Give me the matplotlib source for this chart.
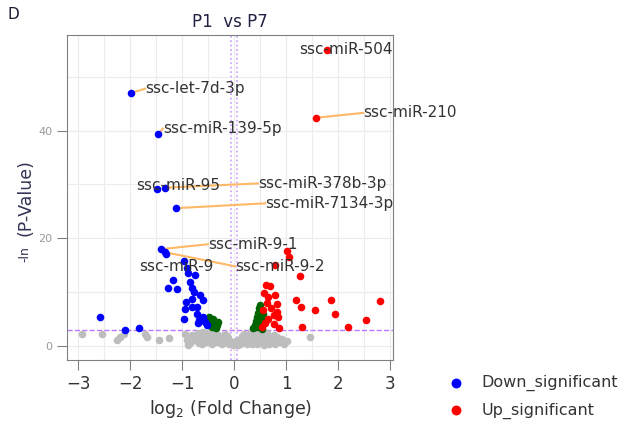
import numpy as np
import matplotlib
matplotlib.use("Agg")
import matplotlib.pyplot as plt

# ---- data (log2 fold change, -ln p) ----
down_x = [-2.58, -2.10, -1.82, -0.97, -0.91, -0.88, -0.75, -1.17, -1.28, -1.10,
          -0.85, -0.81, -0.78, -0.65, -0.60, -0.81, -0.92, -0.81, -0.72, -0.94,
          -0.96, -0.72, -0.67, -0.56, -0.70, -0.53, -0.59, -1.98, -1.46, -1.48,
          -1.33, -1.12, -1.40, -1.32, -1.30]
down_y = [5.4, 3.0, 3.4, 15.7, 14.4, 13.5, 13.1, 12.2, 10.7, 10.5,
          11.9, 10.7, 10.1, 9.4, 8.6, 8.8, 8.2, 7.3, 7.2, 6.8,
          5.1, 6.0, 4.9, 4.5, 4.2, 3.9, 5.4, 47.0, 39.3, 29.1,
          29.4, 25.6, 18.0, 17.4, 17.1]

up_x = [0.62, 0.69, 0.58, 0.66, 0.79, 0.83, 0.63, 0.72, 0.56, 0.82,
        0.76, 0.66, 0.85, 0.60, 0.76, 0.87, 0.53, 1.26, 1.19, 1.28,
        1.31, 1.56, 1.86, 1.94, 2.20, 2.53, 2.81, 1.79, 1.58, 0.79,
        1.02, 1.06]
up_y = [11.3, 11.1, 9.8, 9.1, 9.4, 7.8, 7.9, 7.0, 6.7, 6.4,
        5.7, 5.1, 5.4, 4.2, 4.1, 3.3, 3.6, 13.0, 8.6, 7.3,
        3.6, 6.7, 8.5, 6.0, 3.6, 4.8, 8.3, 55.0, 42.4, 15.0,
        17.6, 16.5]

green_x = [-0.52, -0.48, -0.45, -0.42, -0.40, -0.37, -0.35, -0.32, -0.30,
           0.36, 0.40, 0.42, 0.45, 0.47, 0.48, 0.50, 0.44, 0.50, 0.52, 0.54, 0.55]
green_y = [4.8, 5.3, 4.2, 3.6, 5.0, 4.4, 3.4, 3.9, 4.5,
           3.4, 3.9, 4.6, 5.4, 6.2, 7.0, 7.6, 3.5, 4.3, 5.0, 3.2, 6.0]

grey_x = [-2.92, -2.55, -2.25, -2.19, -2.12, -1.71, -1.67, -1.45, -1.26, 1.46,
          -0.95, -0.90, -0.85, -0.80, -0.78, -0.72, -0.70, -0.65, -0.62, -0.60,
          -0.55, -0.52, -0.50, -0.47, -0.45, -0.42, -0.40, -0.38, -0.35, -0.33,
          -0.30, -0.28, -0.25, -0.23, -0.20, -0.18, -0.15, -0.12, -0.10, -0.08,
          -0.05, -0.03, 0.00, 0.03, 0.06, 0.08, 0.10, 0.13, 0.15, 0.18,
          0.20, 0.22, 0.25, 0.27, 0.30, 0.32, 0.35, 0.38, 0.40, 0.42,
          0.45, 0.48, 0.50, 0.52, 0.55, 0.58, 0.60, 0.63, 0.66, 0.70,
          0.72, 0.76, 0.80, 0.83, 0.88, 0.92, 0.97, 1.02,
          -0.88, -0.75, -0.68, -0.57, -0.44, -0.36, -0.26, -0.17, -0.07, 0.04,
          0.12, 0.24, 0.34, 0.44, 0.57, 0.68, 0.78, 0.86, 0.95, -0.60,
          -0.48, -0.31, -0.14, 0.17, 0.29, 0.53, 0.64, 0.74]
grey_y = [2.2, 2.3, 1.1, 1.6, 2.3, 2.3, 1.6, 1.1, 1.4, 1.6,
          2.3, 1.2, 0.5, 2.0, 1.5, 0.9, 2.4, 1.8, 0.4, 1.3,
          2.2, 0.8, 1.6, 2.6, 1.1, 0.3, 1.9, 2.4, 1.4, 0.7,
          2.0, 1.0, 1.7, 0.4, 1.3, 2.2, 0.8, 1.5, 0.3, 1.0,
          0.5, 0.1, 0.2, 0.3, 0.8, 0.1, 1.2, 0.5, 1.8, 0.9,
          2.3, 1.4, 0.4, 2.0, 1.0, 2.6, 1.6, 0.7, 2.2, 1.2,
          0.3, 1.9, 2.5, 0.9, 1.5, 2.3, 0.5, 1.1, 1.8, 0.6,
          1.3, 2.0, 0.9, 1.6, 0.7, 1.3, 0.4, 0.9,
          0.2, 1.2, 0.6, 1.0, 0.6, 2.0, 0.6, 1.1, 0.6, 1.0,
          0.4, 0.9, 0.3, 1.7, 0.2, 0.3, 0.4, 1.1, 0.9, 2.6,
          2.1, 1.4, 1.9, 1.5, 1.6, 1.9, 2.5, 0.8]

# labelled miRNAs: name, point, label anchor (left edge, centre)
lab_names = ["ssc-miR-504", "ssc-let-7d-3p", "ssc-miR-210", "ssc-miR-139-5p",
             "ssc-miR-95", "ssc-miR-378b-3p", "ssc-miR-7134-3p", "ssc-miR-9-1",
             "ssc-miR-9", "ssc-miR-9-2"]
lab_px = [1.79, -1.98, 1.58, -1.46, -1.48, -1.33, -1.12, -1.40, -1.30, -1.32]
lab_py = [55.0, 47.0, 42.4, 39.3, 29.1, 29.4, 25.6, 18.0, 17.1, 17.4]
lab_tx = [1.25, -1.71, 2.48, -1.37, -1.88, 0.46, 0.60, -0.50, -1.83, 0.02]
lab_ty = [55.0, 47.8, 43.3, 40.4, 29.8, 30.2, 26.5, 18.9, 14.8, 14.8]
lab_line = [False, True, True, True, False, True, True, True, False, True]

p_cut = 3.0

fig = plt.figure(figsize=(6.28, 4.25), dpi=100)
ax = fig.add_axes([0.107, 0.153, 0.519, 0.765])

ax.set_xlim(-3.21, 3.06)
ax.set_ylim(-2.6, 57.8)
ax.set_xticks([-3, -2, -1, 0, 1, 2, 3])
ax.set_yticks([0, 20, 40])
ax.set_xticks(np.arange(-3, 3.01, 0.5), minor=True)
ax.set_yticks(np.arange(0, 51, 10), minor=True)
ax.grid(which="both", color="#ececec", linewidth=0.8, zorder=0)
ax.set_axisbelow(True)
ax.tick_params(axis="x", which="minor", length=0)
ax.tick_params(axis="y", which="minor", length=0)
ax.tick_params(axis="x", which="major", length=7, color="#808080",
               labelsize=12, labelcolor="#333333")
ax.tick_params(axis="y", which="major", length=7, color="#808080",
               labelsize=8, labelcolor="#999999")
for s in ax.spines.values():
    s.set_color("#808080")

ax.axvline(-0.05, color="#cc99ff", linestyle=":", linewidth=1.2, zorder=1)
ax.axvline(0.05, color="#cc99ff", linestyle=":", linewidth=1.2, zorder=1)
ax.axhline(p_cut, color="#bb77ff", linestyle="--", linewidth=1.0, zorder=1)

ms = 30
ax.scatter(grey_x, grey_y, s=ms, color="#bdbdbd", linewidths=0, zorder=2)
ax.scatter(green_x, green_y, s=ms, color="#006400", linewidths=0, zorder=3)
hd = ax.scatter(down_x, down_y, s=ms, color="#0000ff", linewidths=0, zorder=3,
                label="Down_significant")
hu = ax.scatter(up_x, up_y, s=ms, color="#ff0000", linewidths=0, zorder=3,
                label="Up_significant")

for name, px, py, tx, ty, ln in zip(lab_names, lab_px, lab_py, lab_tx, lab_ty, lab_line):
    if ln:
        ax.plot([px, tx], [py, ty], color="#ffb866", linewidth=1.5, zorder=2)
    ax.text(tx, ty, name, fontsize=11, color="#333333", ha="left", va="center",
            zorder=4)

ax.set_title("P1  vs P7", fontsize=12, color="#222244", pad=6)
ax.set_xlabel("log$_2$ (Fold Change)", fontsize=12.5, color="#333333", labelpad=4)

# y label: small "-ln" followed by larger "(P-Value)"
fig.text(25 / 628, 1 - 198 / 425, "(P-Value)", rotation=90, fontsize=12.5,
         color="#333355", ha="center", va="center")
fig.text(25 / 628, 1 - 254 / 425, "-ln", rotation=90, fontsize=9,
         color="#333355", ha="center", va="center")

fig.text(0.012, 0.965, "D", fontsize=11, color="#1a1a33", va="center")

fig.legend(handles=[hd, hu], loc="center left", bbox_to_anchor=(0.677, 0.066),
           frameon=False, fontsize=11.5, labelspacing=0.7, handletextpad=0.65,
           markerscale=1.3, labelcolor="#333333")

fig.savefig("out.png", dpi=100)
